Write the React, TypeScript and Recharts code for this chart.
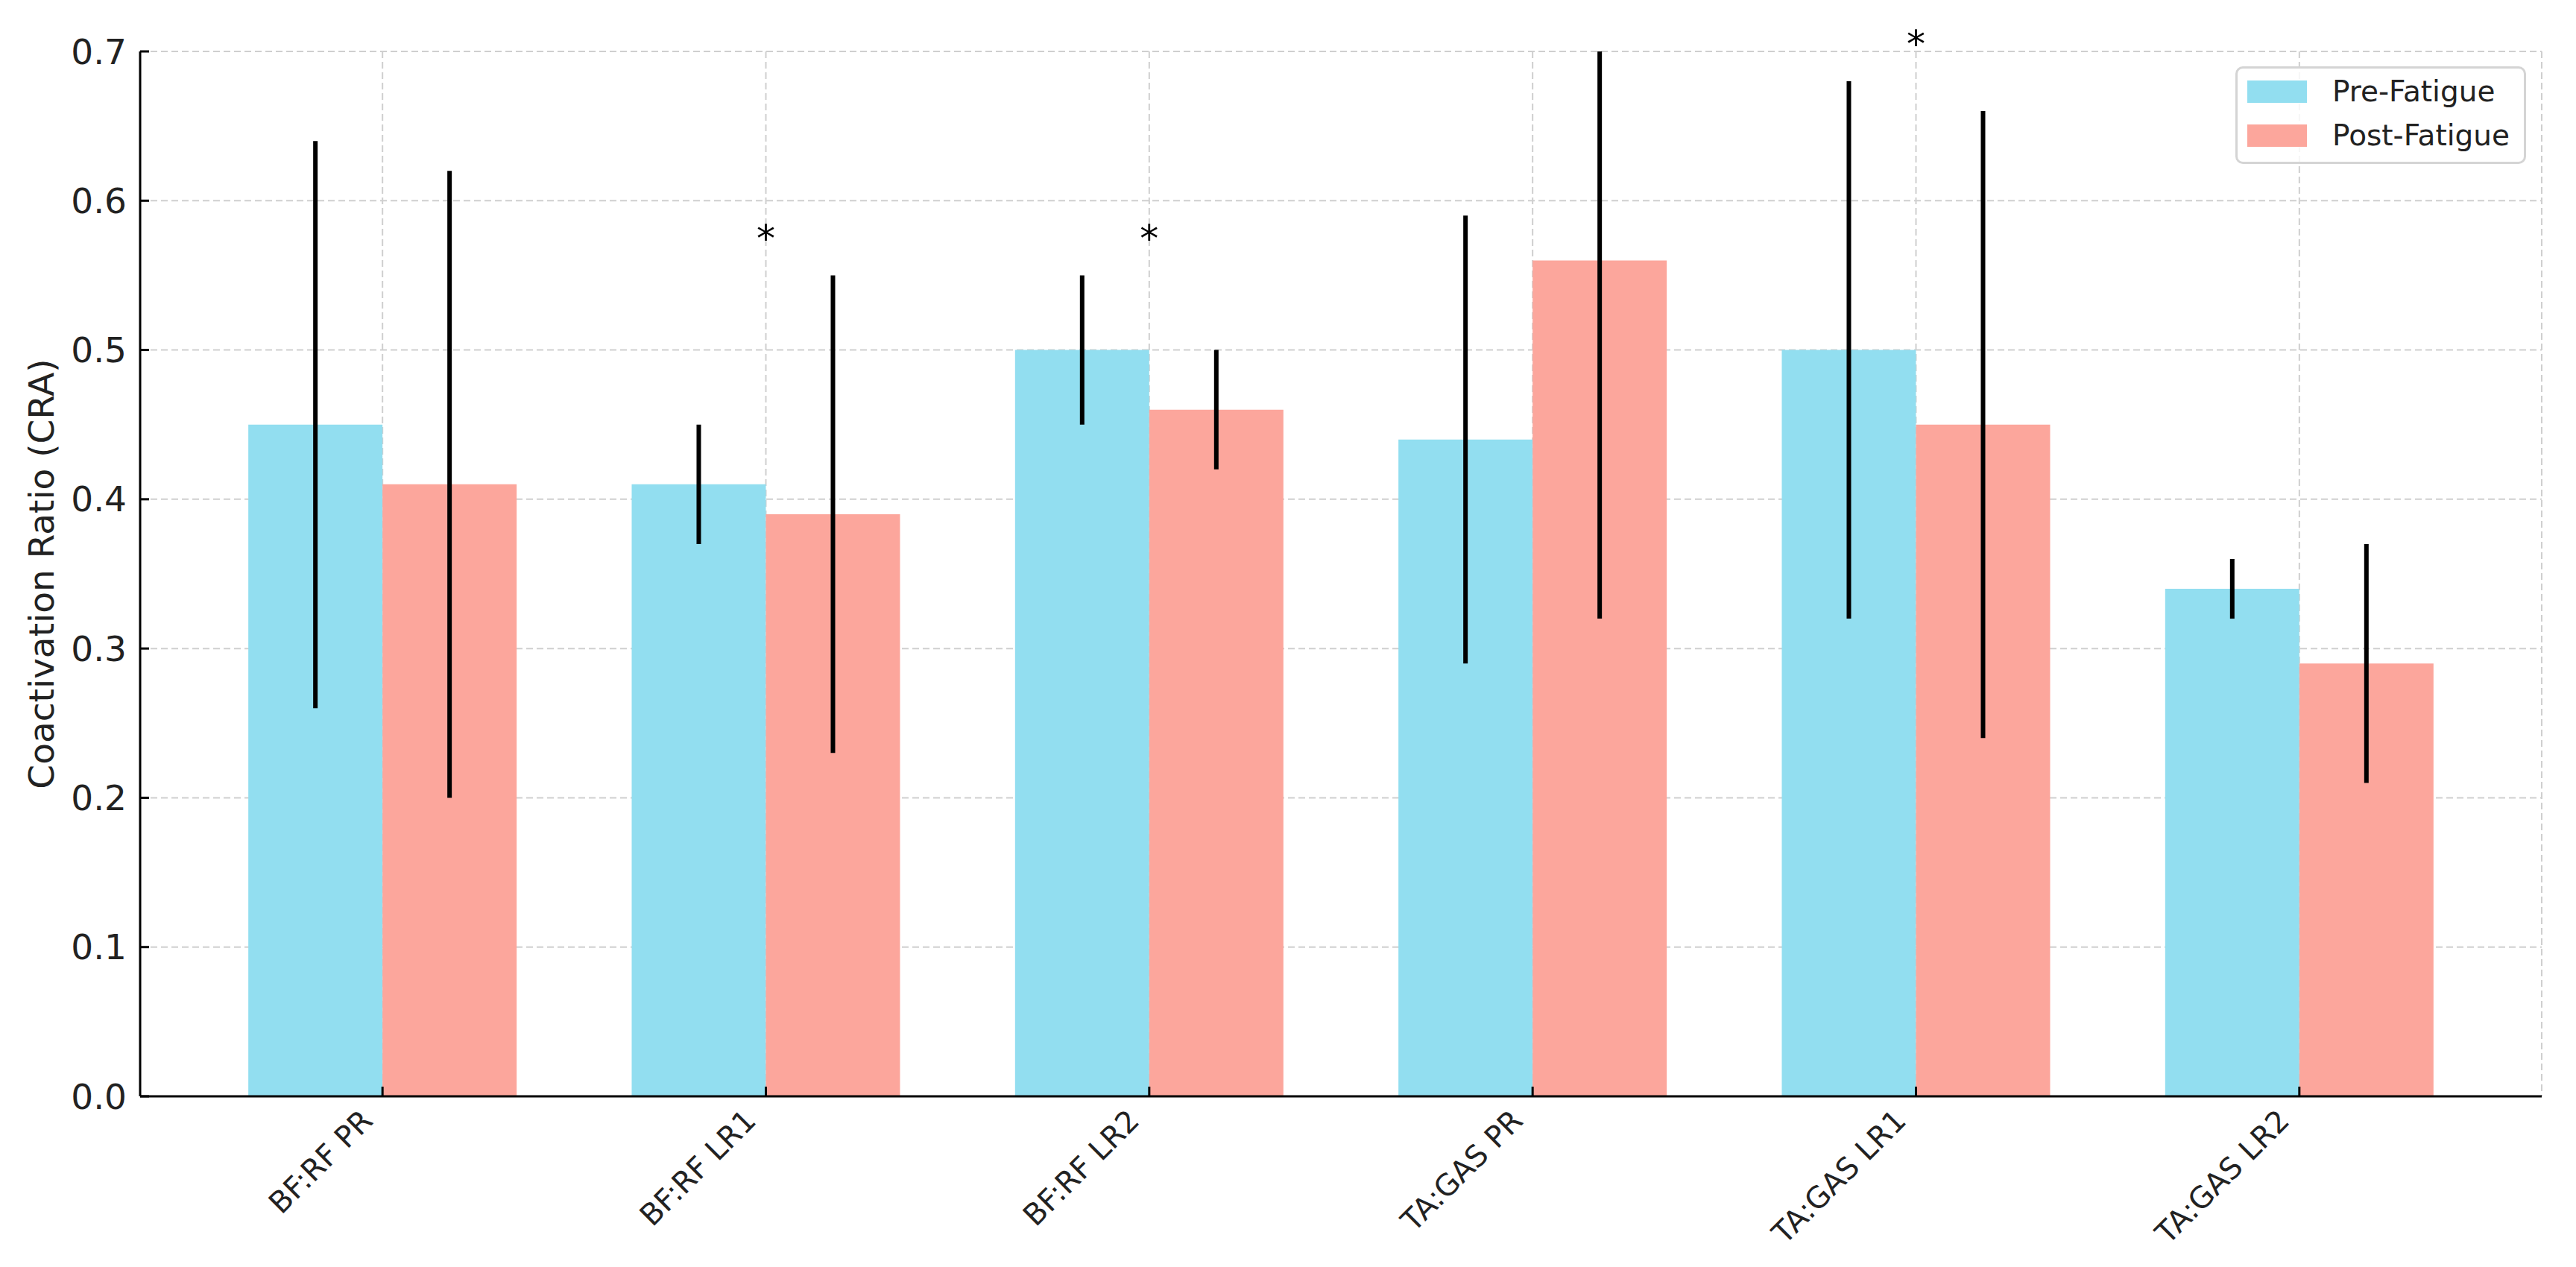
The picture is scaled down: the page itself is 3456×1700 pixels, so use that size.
import React from 'react';
import { BarChart, Bar, XAxis, YAxis, CartesianGrid, ErrorBar, Legend, ReferenceDot } from 'recharts';

const categories = ['BF:RF PR', 'BF:RF LR1', 'BF:RF LR2', 'TA:GAS PR', 'TA:GAS LR1', 'TA:GAS LR2'];
const preFatigue = [0.45, 0.41, 0.5, 0.44, 0.5, 0.34];
const preSd = [0.19, 0.04, 0.05, 0.15, 0.18, 0.02];
const postFatigue = [0.41, 0.39, 0.46, 0.56, 0.45, 0.29];
const postSd = [0.21, 0.16, 0.04, 0.24, 0.21, 0.08];
const starCategories = ['BF:RF LR1', 'BF:RF LR2', 'TA:GAS LR1'];
const starLevels = [0.58, 0.58, 0.71];
const yTicks = [0, 0.1, 0.2, 0.3, 0.4, 0.5, 0.6, 0.7];
const seriesNames = ['Pre-Fatigue', 'Post-Fatigue'];

const PRE_COLOR = '#92DEF0';
const POST_COLOR = '#FCA69C';
const FONT = '"DejaVu Sans", sans-serif';
const AXIS_X = 188;
const AXIS_Y = 1471;
const PLOT_W = 3222;
const PLOT_H = 1402;
const PLOT_TOP = 69;

const rows = categories.map((c, i) => ({
  name: c,
  pre: preFatigue[i],
  preSd: preSd[i],
  post: postFatigue[i],
  postSd: postSd[i],
}));

function YTick(props: any) {
  const { x, y, payload } = props;
  return (
    <g>
      <line x1={AXIS_X} x2={AXIS_X + 12} y1={y} y2={y} stroke="#000" strokeWidth={3} />
      <text x={x - 10} y={y} textAnchor="end" dominantBaseline="central" fontSize={47} fontFamily={FONT} fill="#222">
        {Number(payload.value).toFixed(1)}
      </text>
    </g>
  );
}

function XTick(props: any) {
  const { x, y, payload } = props;
  const tx = x - 11;
  const ty = y + 27;
  return (
    <g>
      <line x1={x} x2={x} y1={AXIS_Y} y2={AXIS_Y - 13} stroke="#000" strokeWidth={3} />
      <text x={tx} y={ty} textAnchor="end" transform={`rotate(-45, ${tx}, ${ty})`} fontSize={40} fontFamily={FONT} fill="#222">
        {payload.value}
      </text>
    </g>
  );
}

function YLabel(props: any) {
  const vb = props.viewBox || {};
  const cx = 55;
  const cy = (vb.y || PLOT_TOP) + (vb.height || PLOT_H) / 2;
  return (
    <text x={cx} y={cy} transform={`rotate(-90, ${cx}, ${cy})`} textAnchor="middle" dominantBaseline="central" fontSize={47} fontFamily={FONT} fill="#222">
      Coactivation Ratio (CRA)
    </text>
  );
}

function Star(props: any) {
  const { cx, cy } = props;
  return (
    <text x={cx} y={cy} dy="0.55em" textAnchor="middle" fontSize={50} fontFamily={FONT} fill="#000">
      *
    </text>
  );
}

function LegendBox(props: any) {
  const items = [...(props.payload || [])].sort(
    (a: any, b: any) => seriesNames.indexOf(a.value) - seriesNames.indexOf(b.value)
  );
  return (
    <div
      style={{
        position: 'relative',
        width: 390,
        height: 131,
        boxSizing: 'border-box',
        border: '3px solid #d4d4d4',
        borderRadius: 10,
        background: 'rgba(255,255,255,0.8)',
        fontFamily: FONT,
        fontSize: 39,
        color: '#222',
      }}
    >
      {items.map((it: any, i: number) => (
        <div key={it.value} style={{ position: 'absolute', left: 13, top: 16 + i * 59, height: 30, display: 'flex', alignItems: 'center' }}>
          <div style={{ width: 80, height: 30, background: it.color }} />
          <span style={{ marginLeft: 34, lineHeight: '30px', whiteSpace: 'nowrap' }}>{it.value}</span>
        </div>
      ))}
    </div>
  );
}

export default function App() {
  return (
    <div style={{ position: 'absolute', left: 0, top: 0, width: 3456, height: 1700, background: '#fff' }}>
      {/* error bars are clipped to the plot area, like matplotlib does */}
      <svg width={0} height={0} style={{ position: 'absolute' }}>
        <defs>
          <clipPath id="plot-clip" clipPathUnits="userSpaceOnUse">
            <rect x={AXIS_X} y={PLOT_TOP} width={PLOT_W} height={PLOT_H} />
          </clipPath>
        </defs>
      </svg>
      <style>{`.recharts-errorBars { clip-path: url(#plot-clip); }`}</style>
      <BarChart
        width={3456}
        height={1700}
        data={rows}
        margin={{ top: PLOT_TOP, right: 46, bottom: 0, left: 0 }}
        barCategoryGap="15%"
        barGap={0}
      >
        <CartesianGrid stroke="#cfcfcf" strokeWidth={2} strokeDasharray="9 5" />
        <XAxis
          dataKey="name"
          height={229}
          padding={{ left: 68, right: 68 }}
          axisLine={{ stroke: '#000', strokeWidth: 3 }}
          tickLine={false}
          tick={<XTick />}
          interval={0}
        />
        <YAxis
          width={188}
          domain={[0, 0.7]}
          ticks={yTicks}
          allowDataOverflow
          axisLine={{ stroke: '#000', strokeWidth: 3 }}
          tickLine={false}
          tick={<YTick />}
          label={<YLabel />}
        />
        <Legend
          layout="vertical"
          align="center"
          verticalAlign="middle"
          content={<LegendBox />}
          wrapperStyle={{ left: 2999, top: 89, width: 390 }}
        />
        <Bar dataKey="pre" name={seriesNames[0]} fill={PRE_COLOR} isAnimationActive={false}>
          <ErrorBar dataKey="preSd" width={0} stroke="#000" strokeWidth={6} direction="y" />
        </Bar>
        <Bar dataKey="post" name={seriesNames[1]} fill={POST_COLOR} isAnimationActive={false}>
          <ErrorBar dataKey="postSd" width={0} stroke="#000" strokeWidth={6} direction="y" />
        </Bar>
        {starCategories.map((c, i) => (
          <ReferenceDot key={c} x={c} y={starLevels[i]} r={0} ifOverflow="visible" shape={<Star />} />
        ))}
      </BarChart>
    </div>
  );
}
